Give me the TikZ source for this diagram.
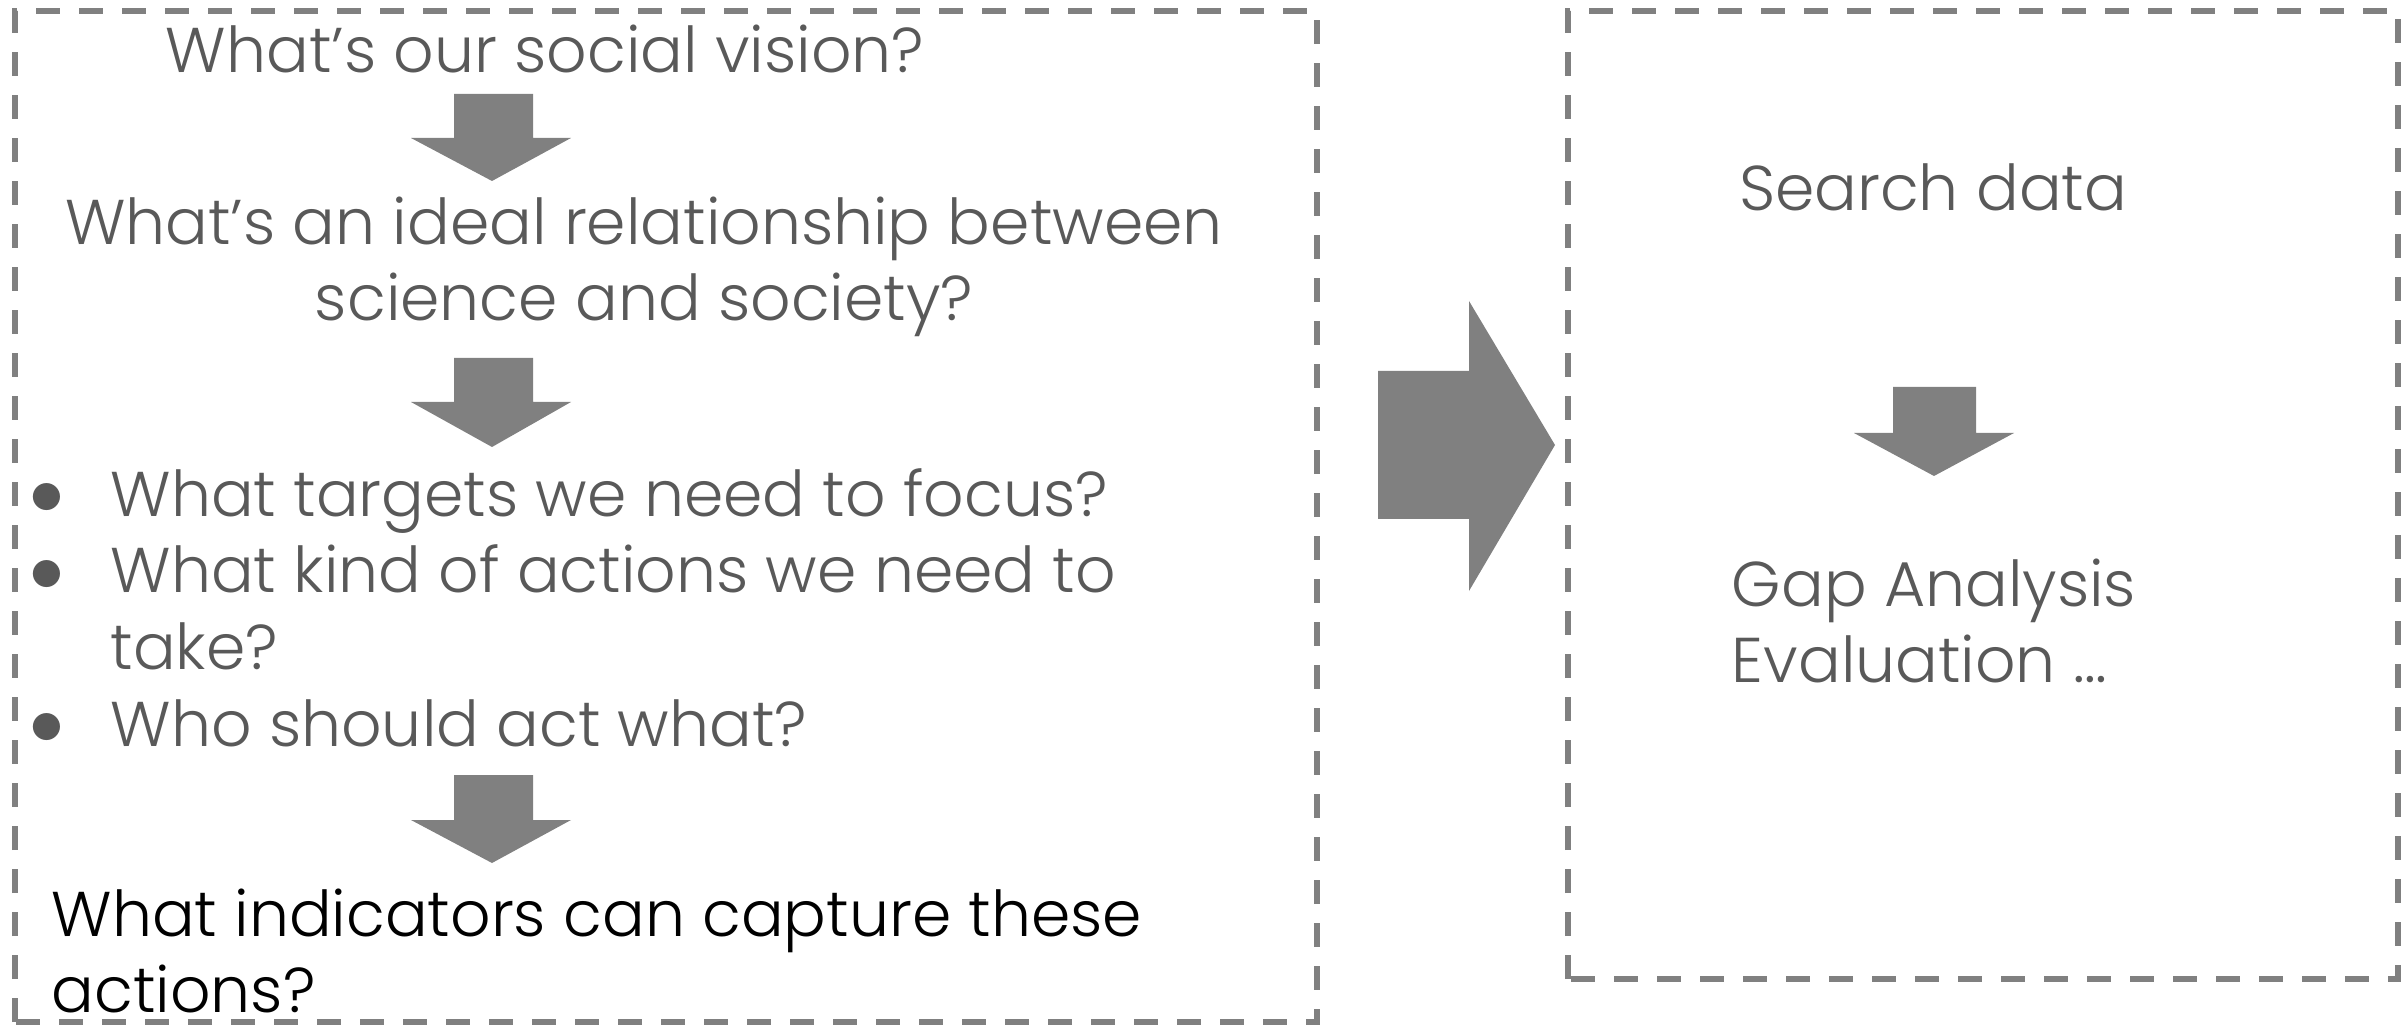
\documentclass[tikz,border=0pt]{standalone}
\usepackage{fontspec}
\setmainfont{Poppins Light}
\usepackage{tikz}
\usetikzlibrary{positioning}
\definecolor{txtgray}{HTML}{595959}
\definecolor{boxgray}{HTML}{808080}
\tikzset{
	framebox/.style={draw=boxgray,line width=1.6pt,dash pattern=on 0.24cm off 0.19cm},
	blockarrow/.style={fill=boxgray,draw=none},
	question/.style={text=txtgray,inner sep=0pt,font=\fontsize{18}{21.8}\selectfont},
}
\newcommand{\itemdot}{\raisebox{0.05ex}{\scalebox{1.15}{$\bullet$}}}
\begin{document}
\begin{tikzpicture}
		\useasboundingbox (0,0) rectangle (24.07,10.27);
		
		\draw[framebox] (0.15,0.05) rectangle (13.17,10.16);
		\draw[framebox] (15.68,0.48) rectangle (23.98,10.16);
		
		\node[question] (vision) at (5.45,9.78){What’s our social vision?};
		\node[question,align=center] (ideal) at (6.44,7.60){What's an ideal relationship between\\science and society?};
		\node[question,anchor=north west,align=left] (targets) at (0.29,5.65){%
			\begin{tabular}{@{}l@{\hspace{0.46cm}}l@{}}
				\itemdot & What targets we need to focus?\\
				\itemdot & What kind of actions we need to\\
				 & take?\\
				\itemdot & Who should act what?
			\end{tabular}};
		\node[question,text=black,anchor=west,align=left] (indicators) at (0.51,0.76){What indicators can capture these\\actions?};
		
		\node[question] (search) at (19.33,8.40){Search data};
		\node[question,align=left] (gap) at (19.34,4.06){Gap Analysis\\Evaluation \dots};
		
		\fill[blockarrow] (4.54,9.33) -- (5.33,9.33) -- (5.33,8.89) -- (5.71,8.89) -- (4.92,8.46) -- (4.11,8.89) -- (4.54,8.89) -- cycle;
		\fill[blockarrow] (4.54,6.69) -- (5.33,6.69) -- (5.33,6.25) -- (5.71,6.25) -- (4.92,5.80) -- (4.11,6.25) -- (4.54,6.25) -- cycle;
		\fill[blockarrow] (4.54,2.52) -- (5.33,2.52) -- (5.33,2.07) -- (5.71,2.07) -- (4.92,1.64) -- (4.11,2.07) -- (4.54,2.07) -- cycle;
		\fill[blockarrow] (18.93,6.40) -- (19.76,6.40) -- (19.76,5.94) -- (20.14,5.94) -- (19.34,5.51) -- (18.54,5.94) -- (18.93,5.94) -- cycle;
		
		\fill[blockarrow] (13.78,6.56) -- (14.69,6.56) -- (14.69,7.26) -- (15.55,5.82) -- (14.69,4.36) -- (14.69,5.08) -- (13.78,5.08) -- cycle;
	\end{tikzpicture}
\end{document}
